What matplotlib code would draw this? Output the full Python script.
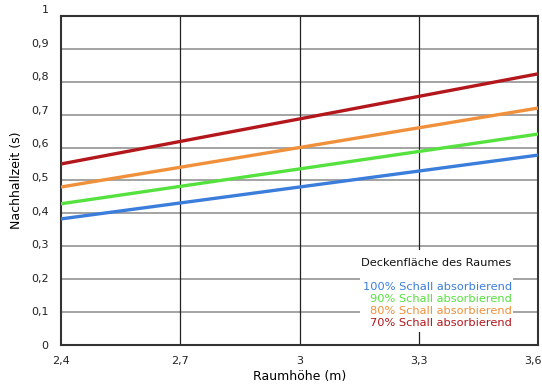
import matplotlib.pyplot as plt
from matplotlib.patches import Rectangle
from matplotlib.transforms import ScaledTranslation

hoehe = [2.4, 3.6]
nachhall_100 = [0.383, 0.577]
nachhall_90 = [0.429, 0.641]
nachhall_80 = [0.480, 0.720]
nachhall_70 = [0.550, 0.824]

labels = ["100% Schall absorbierend", "90% Schall absorbierend",
          "80% Schall absorbierend", "70% Schall absorbierend"]
colors = ["#3b7ddb", "#55e23f", "#f0903a", "#b3161b"]
series = [nachhall_100, nachhall_90, nachhall_80, nachhall_70]

xticks = [2.4, 2.7, 3.0, 3.3, 3.6]
xticklabels = ["2,4", "2,7", "3", "3,3", "3,6"]
yticks = [0, 0.1, 0.2, 0.3, 0.4, 0.5, 0.6, 0.7, 0.8, 0.9, 1.0]
yticklabels = ["0", "0,1", "0,2", "0,3", "0,4", "0,5", "0,6", "0,7", "0,8", "0,9", "1"]

plt.rcParams["font.family"] = "DejaVu Sans"
fig = plt.figure(figsize=(5.42, 3.88), dpi=100)
ax = fig.add_axes([0.1125, 0.111, 0.8805, 0.848])

for y in yticks[1:-1]:
    ax.axhline(y, color="#8a8a8a", lw=1.1, zorder=1)
for x in xticks[1:-1]:
    ax.axvline(x, color="#222222", lw=0.9, zorder=1)

for vals, c in zip(series, colors):
    ax.plot(hoehe, vals, color=c, lw=2.4, solid_capstyle="butt", zorder=3)

ax.set_xlim(2.4, 3.6)
ax.set_ylim(0, 1)
ax.set_xticks(xticks)
ax.set_xticklabels(xticklabels)
ax.set_yticks(yticks)
ax.set_yticklabels(yticklabels)
ax.tick_params(length=0, labelsize=8, colors="#222222")
ax.tick_params(axis="y", pad=9)
ax.tick_params(axis="x", pad=8)
ax.set_xlabel("Raumhöhe (m)", fontsize=9, labelpad=3)
ax.set_ylabel("Nachhallzeit (s)", fontsize=9, labelpad=6)
for s in ax.spines.values():
    s.set_color("#333333")
    s.set_linewidth(1.5)

# the y labels in the original drift upwards a little towards the top
for lab, y in zip(ax.get_yticklabels(), yticks):
    lab.set_transform(lab.get_transform() + ScaledTranslation(0, 0.07 * y, fig.dpi_scale_trans))
ax.get_xticklabels()[-1].set_horizontalalignment("right")
ax.get_xticklabels()[-1].set_transform(
    ax.get_xticklabels()[-1].get_transform() + ScaledTranslation(0.03, 0, fig.dpi_scale_trans))

ax.add_patch(Rectangle((0.627, 0.04), 0.321, 0.249, transform=ax.transAxes,
                       facecolor="white", edgecolor="none", zorder=4))
ax.text(0.786, 0.249, "Deckenfläche des Raumes", transform=ax.transAxes,
        ha="center", va="center", fontsize=8.2, color="#111111", zorder=5)
for i, (lab, c) in enumerate(zip(labels, colors)):
    ax.text(0.945, 0.176 - i * 0.036, lab, transform=ax.transAxes,
            ha="right", va="center", fontsize=8.2, color=c, zorder=5)

fig.savefig("out.png", dpi=100)
